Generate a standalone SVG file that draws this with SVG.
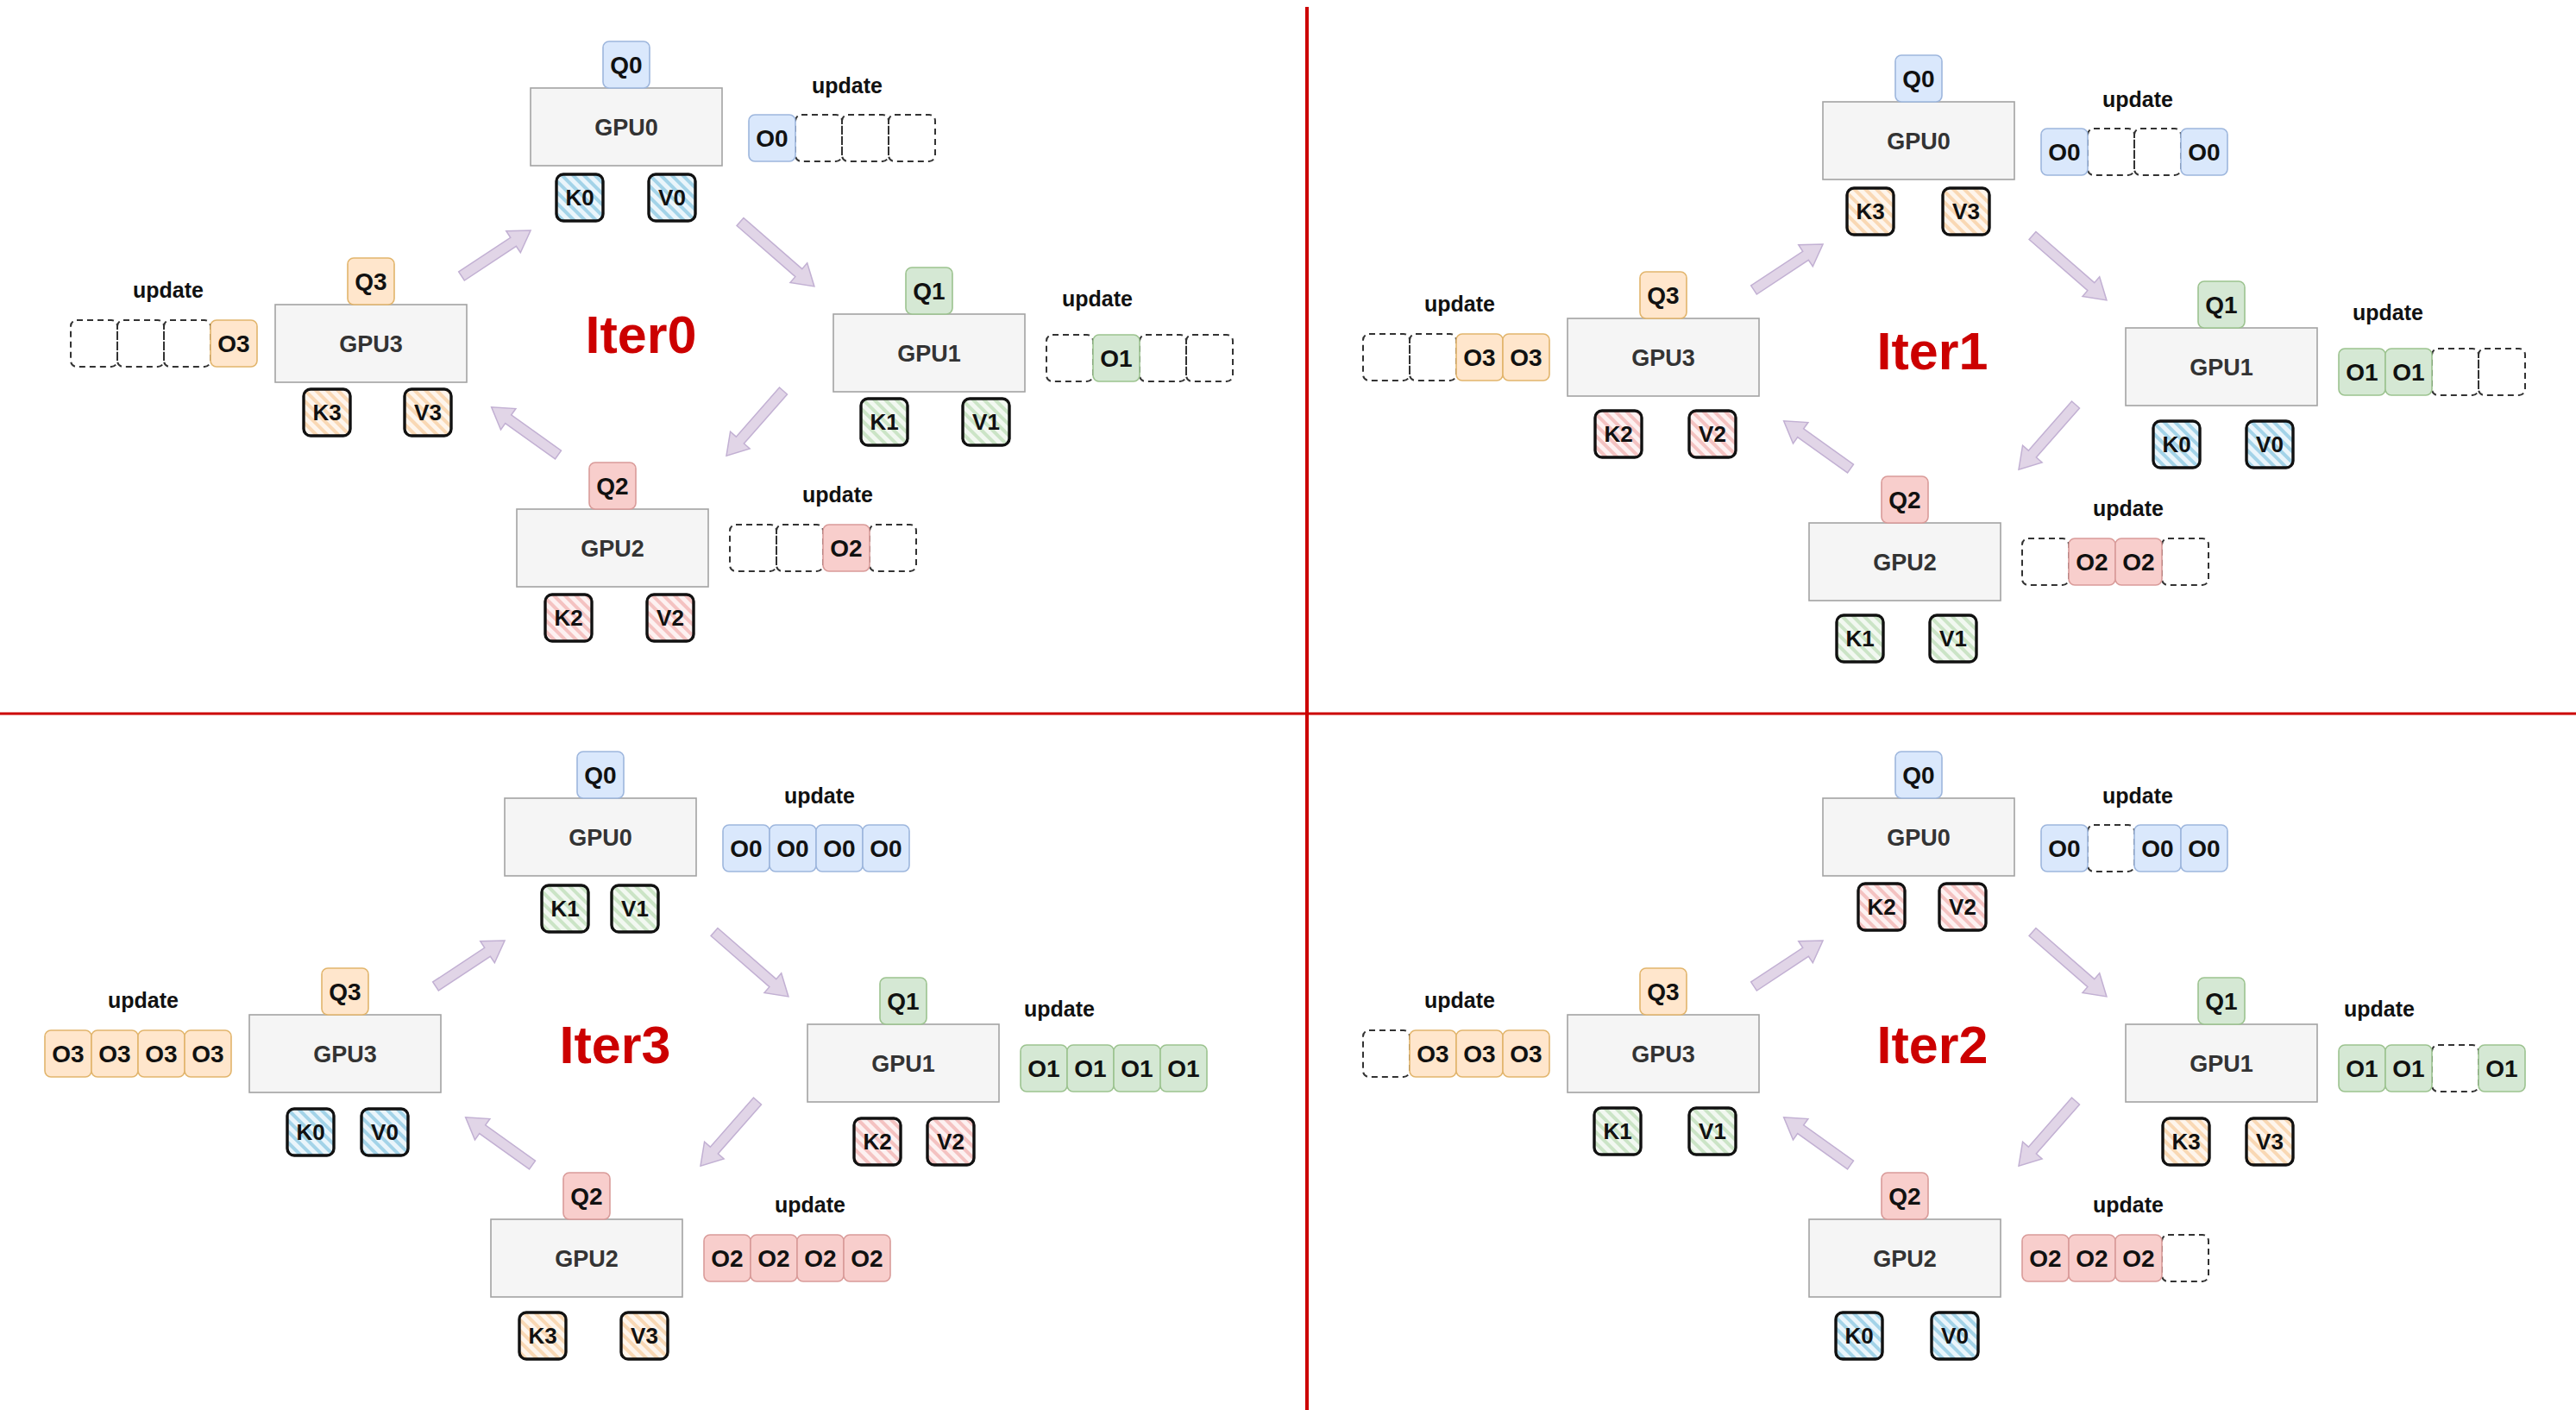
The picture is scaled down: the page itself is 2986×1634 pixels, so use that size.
<svg xmlns="http://www.w3.org/2000/svg" width="2986" height="1634" viewBox="0 0 2986 1634">
<style>
text{font-family:"Liberation Sans",Arial,Helvetica,sans-serif;font-weight:bold;text-anchor:middle}
.gpu{fill:#f5f5f5;stroke:#a3a3a3;stroke-width:1.6}
.gt{font-size:27px;fill:#333}
.l{font-size:28px;fill:#111}
.kt{font-size:26px;fill:#111}
.upd{font-size:25px;fill:#111}
.iter{font-size:61px;fill:#cc0000}
.cb{fill:#dae8fc;stroke:#9db6dd;stroke-width:1.6}
.cg{fill:#d5e8d4;stroke:#9cc38f;stroke-width:1.6}
.cr{fill:#f8cecc;stroke:#d99b99;stroke-width:1.6}
.co{fill:#ffe6cc;stroke:#e2b56c;stroke-width:1.6}
.d{fill:none;stroke:#333;stroke-width:2;stroke-dasharray:7 5}
.kv{stroke:#111;stroke-width:3.4}
.hb{fill:url(#hb)}.hg{fill:url(#hg)}.hr{fill:url(#hr)}.ho{fill:url(#ho)}
.arrow{fill:#e1d5e7;stroke:#c2b0d3;stroke-width:1.5}
.sep{stroke:#cc0000;fill:none}
</style>
<defs>
<pattern id="hb" patternUnits="userSpaceOnUse" width="9" height="9" patternTransform="rotate(-45)"><rect width="9" height="9" fill="#eaf5fb"/><rect width="4" height="9" fill="#a3d3e8"/></pattern>
<pattern id="hg" patternUnits="userSpaceOnUse" width="9" height="9" patternTransform="rotate(-45)"><rect width="9" height="9" fill="#f2f8f1"/><rect width="4" height="9" fill="#cbe4c6"/></pattern>
<pattern id="hr" patternUnits="userSpaceOnUse" width="9" height="9" patternTransform="rotate(-45)"><rect width="9" height="9" fill="#fdf1f1"/><rect width="4" height="9" fill="#f4c2c1"/></pattern>
<pattern id="ho" patternUnits="userSpaceOnUse" width="9" height="9" patternTransform="rotate(-45)"><rect width="9" height="9" fill="#fef5ec"/><rect width="4" height="9" fill="#f9d8b4"/></pattern>
</defs>
<rect width="2986" height="1634" fill="#ffffff"/>

<g id="separators">
<line class="sep" x1="0" y1="827" x2="2986" y2="827" stroke-width="3"/>
<line class="sep" x1="1515" y1="8" x2="1515" y2="1634" stroke-width="4"/>
</g>

<!-- ============ Iter0 (top-left) ============ -->
<g id="iter0" transform="translate(0,0)">
<text id="iter0-label" class="iter" x="743" y="409">Iter0</text>
<g id="iter0-gpu0">
<rect class="gpu" x="615" y="102" width="222" height="90"/><text class="gt" x="726" y="157">GPU0</text>
<rect class="cb" x="699" y="48" width="54" height="54" rx="7"/><text class="l" x="726" y="85">Q0</text>
<rect class="kv hb" x="645" y="202" width="54" height="54" rx="8"/><text class="kt" x="672" y="238">K0</text>
<rect class="kv hb" x="752" y="202" width="54" height="54" rx="8"/><text class="kt" x="779" y="238">V0</text>
<text class="upd" x="982" y="108">update</text>
<rect class="d" x="922" y="133" width="54" height="54" rx="7"/><rect class="d" x="976" y="133" width="54" height="54" rx="7"/><rect class="d" x="1030" y="133" width="54" height="54" rx="7"/>
<rect class="cb" x="868" y="133" width="54" height="54" rx="7"/><text class="l" x="895" y="170">O0</text>
</g>
<g id="iter0-gpu3">
<rect class="gpu" x="319" y="353" width="222" height="90"/><text class="gt" x="430" y="408">GPU3</text>
<rect class="co" x="403" y="299" width="54" height="54" rx="7"/><text class="l" x="430" y="336">Q3</text>
<rect class="kv ho" x="352" y="451" width="54" height="54" rx="8"/><text class="kt" x="379" y="487">K3</text>
<rect class="kv ho" x="469" y="451" width="54" height="54" rx="8"/><text class="kt" x="496" y="487">V3</text>
<text class="upd" x="195" y="345">update</text>
<rect class="d" x="82" y="371" width="54" height="54" rx="7"/><rect class="d" x="136" y="371" width="54" height="54" rx="7"/><rect class="d" x="190" y="371" width="54" height="54" rx="7"/>
<rect class="co" x="244" y="371" width="54" height="54" rx="7"/><text class="l" x="271" y="408">O3</text>
</g>
<g id="iter0-gpu1">
<rect class="gpu" x="966" y="364" width="222" height="90"/><text class="gt" x="1077" y="419">GPU1</text>
<rect class="cg" x="1050" y="310" width="54" height="54" rx="7"/><text class="l" x="1077" y="347">Q1</text>
<rect class="kv hg" x="998" y="462" width="54" height="54" rx="8"/><text class="kt" x="1025" y="498">K1</text>
<rect class="kv hg" x="1116" y="462" width="54" height="54" rx="8"/><text class="kt" x="1143" y="498">V1</text>
<text class="upd" x="1272" y="355">update</text>
<rect class="d" x="1213" y="388" width="54" height="54" rx="7"/><rect class="d" x="1321" y="388" width="54" height="54" rx="7"/><rect class="d" x="1375" y="388" width="54" height="54" rx="7"/>
<rect class="cg" x="1267" y="388" width="54" height="54" rx="7"/><text class="l" x="1294" y="425">O1</text>
</g>
<g id="iter0-gpu2">
<rect class="gpu" x="599" y="590" width="222" height="90"/><text class="gt" x="710" y="645">GPU2</text>
<rect class="cr" x="683" y="536" width="54" height="54" rx="7"/><text class="l" x="710" y="573">Q2</text>
<rect class="kv hr" x="632" y="689" width="54" height="54" rx="8"/><text class="kt" x="659" y="725">K2</text>
<rect class="kv hr" x="750" y="689" width="54" height="54" rx="8"/><text class="kt" x="777" y="725">V2</text>
<text class="upd" x="971" y="582">update</text>
<rect class="d" x="846" y="608" width="54" height="54" rx="7"/><rect class="d" x="900" y="608" width="54" height="54" rx="7"/><rect class="d" x="1008" y="608" width="54" height="54" rx="7"/>
<rect class="cr" x="954" y="608" width="54" height="54" rx="7"/><text class="l" x="981" y="645">O2</text>
</g>
</g>

<!-- ============ Iter1 (top-right) ============ -->
<g id="iter1" transform="translate(1498,16)">
<text id="iter1-label" class="iter" x="742" y="412">Iter1</text>
<g id="iter1-gpu0">
<rect class="gpu" x="615" y="102" width="222" height="90"/><text class="gt" x="726" y="157">GPU0</text>
<rect class="cb" x="699" y="48" width="54" height="54" rx="7"/><text class="l" x="726" y="85">Q0</text>
<rect class="kv ho" x="643" y="202" width="54" height="54" rx="8"/><text class="kt" x="670" y="238">K3</text>
<rect class="kv ho" x="754" y="202" width="54" height="54" rx="8"/><text class="kt" x="781" y="238">V3</text>
<text class="upd" x="980" y="108">update</text>
<rect class="d" x="922" y="133" width="54" height="54" rx="7"/><rect class="d" x="976" y="133" width="54" height="54" rx="7"/>
<rect class="cb" x="868" y="133" width="54" height="54" rx="7"/><text class="l" x="895" y="170">O0</text>
<rect class="cb" x="1030" y="133" width="54" height="54" rx="7"/><text class="l" x="1057" y="170">O0</text>
</g>
<g id="iter1-gpu3">
<rect class="gpu" x="319" y="353" width="222" height="90"/><text class="gt" x="430" y="408">GPU3</text>
<rect class="co" x="403" y="299" width="54" height="54" rx="7"/><text class="l" x="430" y="336">Q3</text>
<rect class="kv hr" x="351" y="460" width="54" height="54" rx="8"/><text class="kt" x="378" y="496">K2</text>
<rect class="kv hr" x="460" y="460" width="54" height="54" rx="8"/><text class="kt" x="487" y="496">V2</text>
<text class="upd" x="194" y="345">update</text>
<rect class="d" x="82" y="371" width="54" height="54" rx="7"/><rect class="d" x="136" y="371" width="54" height="54" rx="7"/>
<rect class="co" x="190" y="371" width="54" height="54" rx="7"/><text class="l" x="217" y="408">O3</text>
<rect class="co" x="244" y="371" width="54" height="54" rx="7"/><text class="l" x="271" y="408">O3</text>
</g>
<g id="iter1-gpu1">
<rect class="gpu" x="966" y="364" width="222" height="90"/><text class="gt" x="1077" y="419">GPU1</text>
<rect class="cg" x="1050" y="310" width="54" height="54" rx="7"/><text class="l" x="1077" y="347">Q1</text>
<rect class="kv hb" x="998" y="472" width="54" height="54" rx="8"/><text class="kt" x="1025" y="508">K0</text>
<rect class="kv hb" x="1106" y="472" width="54" height="54" rx="8"/><text class="kt" x="1133" y="508">V0</text>
<text class="upd" x="1270" y="355">update</text>
<rect class="d" x="1321" y="388" width="54" height="54" rx="7"/><rect class="d" x="1375" y="388" width="54" height="54" rx="7"/>
<rect class="cg" x="1213" y="388" width="54" height="54" rx="7"/><text class="l" x="1240" y="425">O1</text>
<rect class="cg" x="1267" y="388" width="54" height="54" rx="7"/><text class="l" x="1294" y="425">O1</text>
</g>
<g id="iter1-gpu2">
<rect class="gpu" x="599" y="590" width="222" height="90"/><text class="gt" x="710" y="645">GPU2</text>
<rect class="cr" x="683" y="536" width="54" height="54" rx="7"/><text class="l" x="710" y="573">Q2</text>
<rect class="kv hg" x="631" y="697" width="54" height="54" rx="8"/><text class="kt" x="658" y="733">K1</text>
<rect class="kv hg" x="739" y="697" width="54" height="54" rx="8"/><text class="kt" x="766" y="733">V1</text>
<text class="upd" x="969" y="582">update</text>
<rect class="d" x="846" y="608" width="54" height="54" rx="7"/><rect class="d" x="1008" y="608" width="54" height="54" rx="7"/>
<rect class="cr" x="900" y="608" width="54" height="54" rx="7"/><text class="l" x="927" y="645">O2</text>
<rect class="cr" x="954" y="608" width="54" height="54" rx="7"/><text class="l" x="981" y="645">O2</text>
</g>
</g>

<!-- ============ Iter3 (bottom-left) ============ -->
<g id="iter3" transform="translate(-30,823)">
<text id="iter3-label" class="iter" x="743" y="409">Iter3</text>
<g id="iter3-gpu0">
<rect class="gpu" x="615" y="102" width="222" height="90"/><text class="gt" x="726" y="157">GPU0</text>
<rect class="cb" x="699" y="48" width="54" height="54" rx="7"/><text class="l" x="726" y="85">Q0</text>
<rect class="kv hg" x="658" y="203" width="54" height="54" rx="8"/><text class="kt" x="685" y="239">K1</text>
<rect class="kv hg" x="739" y="203" width="54" height="54" rx="8"/><text class="kt" x="766" y="239">V1</text>
<text class="upd" x="980" y="108">update</text>
<rect class="cb" x="868" y="133" width="54" height="54" rx="7"/><text class="l" x="895" y="170">O0</text>
<rect class="cb" x="922" y="133" width="54" height="54" rx="7"/><text class="l" x="949" y="170">O0</text>
<rect class="cb" x="976" y="133" width="54" height="54" rx="7"/><text class="l" x="1003" y="170">O0</text>
<rect class="cb" x="1030" y="133" width="54" height="54" rx="7"/><text class="l" x="1057" y="170">O0</text>
</g>
<g id="iter3-gpu3">
<rect class="gpu" x="319" y="353" width="222" height="90"/><text class="gt" x="430" y="408">GPU3</text>
<rect class="co" x="403" y="299" width="54" height="54" rx="7"/><text class="l" x="430" y="336">Q3</text>
<rect class="kv hb" x="363" y="462" width="54" height="54" rx="8"/><text class="kt" x="390" y="498">K0</text>
<rect class="kv hb" x="449" y="462" width="54" height="54" rx="8"/><text class="kt" x="476" y="498">V0</text>
<text class="upd" x="196" y="345">update</text>
<rect class="co" x="82" y="371" width="54" height="54" rx="7"/><text class="l" x="109" y="408">O3</text>
<rect class="co" x="136" y="371" width="54" height="54" rx="7"/><text class="l" x="163" y="408">O3</text>
<rect class="co" x="190" y="371" width="54" height="54" rx="7"/><text class="l" x="217" y="408">O3</text>
<rect class="co" x="244" y="371" width="54" height="54" rx="7"/><text class="l" x="271" y="408">O3</text>
</g>
<g id="iter3-gpu1">
<rect class="gpu" x="966" y="364" width="222" height="90"/><text class="gt" x="1077" y="419">GPU1</text>
<rect class="cg" x="1050" y="310" width="54" height="54" rx="7"/><text class="l" x="1077" y="347">Q1</text>
<rect class="kv hr" x="1020" y="473" width="54" height="54" rx="8"/><text class="kt" x="1047" y="509">K2</text>
<rect class="kv hr" x="1105" y="473" width="54" height="54" rx="8"/><text class="kt" x="1132" y="509">V2</text>
<text class="upd" x="1258" y="355">update</text>
<rect class="cg" x="1213" y="388" width="54" height="54" rx="7"/><text class="l" x="1240" y="425">O1</text>
<rect class="cg" x="1267" y="388" width="54" height="54" rx="7"/><text class="l" x="1294" y="425">O1</text>
<rect class="cg" x="1321" y="388" width="54" height="54" rx="7"/><text class="l" x="1348" y="425">O1</text>
<rect class="cg" x="1375" y="388" width="54" height="54" rx="7"/><text class="l" x="1402" y="425">O1</text>
</g>
<g id="iter3-gpu2">
<rect class="gpu" x="599" y="590" width="222" height="90"/><text class="gt" x="710" y="645">GPU2</text>
<rect class="cr" x="683" y="536" width="54" height="54" rx="7"/><text class="l" x="710" y="573">Q2</text>
<rect class="kv ho" x="632" y="698" width="54" height="54" rx="8"/><text class="kt" x="659" y="734">K3</text>
<rect class="kv ho" x="750" y="698" width="54" height="54" rx="8"/><text class="kt" x="777" y="734">V3</text>
<text class="upd" x="969" y="582">update</text>
<rect class="cr" x="846" y="608" width="54" height="54" rx="7"/><text class="l" x="873" y="645">O2</text>
<rect class="cr" x="900" y="608" width="54" height="54" rx="7"/><text class="l" x="927" y="645">O2</text>
<rect class="cr" x="954" y="608" width="54" height="54" rx="7"/><text class="l" x="981" y="645">O2</text>
<rect class="cr" x="1008" y="608" width="54" height="54" rx="7"/><text class="l" x="1035" y="645">O2</text>
</g>
</g>

<!-- ============ Iter2 (bottom-right) ============ -->
<g id="iter2" transform="translate(1498,823)">
<text id="iter2-label" class="iter" x="742" y="409">Iter2</text>
<g id="iter2-gpu0">
<rect class="gpu" x="615" y="102" width="222" height="90"/><text class="gt" x="726" y="157">GPU0</text>
<rect class="cb" x="699" y="48" width="54" height="54" rx="7"/><text class="l" x="726" y="85">Q0</text>
<rect class="kv hr" x="656" y="201" width="54" height="54" rx="8"/><text class="kt" x="683" y="237">K2</text>
<rect class="kv hr" x="750" y="201" width="54" height="54" rx="8"/><text class="kt" x="777" y="237">V2</text>
<text class="upd" x="980" y="108">update</text>
<rect class="d" x="922" y="133" width="54" height="54" rx="7"/>
<rect class="cb" x="868" y="133" width="54" height="54" rx="7"/><text class="l" x="895" y="170">O0</text>
<rect class="cb" x="976" y="133" width="54" height="54" rx="7"/><text class="l" x="1003" y="170">O0</text>
<rect class="cb" x="1030" y="133" width="54" height="54" rx="7"/><text class="l" x="1057" y="170">O0</text>
</g>
<g id="iter2-gpu3">
<rect class="gpu" x="319" y="353" width="222" height="90"/><text class="gt" x="430" y="408">GPU3</text>
<rect class="co" x="403" y="299" width="54" height="54" rx="7"/><text class="l" x="430" y="336">Q3</text>
<rect class="kv hg" x="350" y="461" width="54" height="54" rx="8"/><text class="kt" x="377" y="497">K1</text>
<rect class="kv hg" x="460" y="461" width="54" height="54" rx="8"/><text class="kt" x="487" y="497">V1</text>
<text class="upd" x="194" y="345">update</text>
<rect class="d" x="82" y="371" width="54" height="54" rx="7"/>
<rect class="co" x="136" y="371" width="54" height="54" rx="7"/><text class="l" x="163" y="408">O3</text>
<rect class="co" x="190" y="371" width="54" height="54" rx="7"/><text class="l" x="217" y="408">O3</text>
<rect class="co" x="244" y="371" width="54" height="54" rx="7"/><text class="l" x="271" y="408">O3</text>
</g>
<g id="iter2-gpu1">
<rect class="gpu" x="966" y="364" width="222" height="90"/><text class="gt" x="1077" y="419">GPU1</text>
<rect class="cg" x="1050" y="310" width="54" height="54" rx="7"/><text class="l" x="1077" y="347">Q1</text>
<rect class="kv ho" x="1009" y="473" width="54" height="54" rx="8"/><text class="kt" x="1036" y="509">K3</text>
<rect class="kv ho" x="1106" y="473" width="54" height="54" rx="8"/><text class="kt" x="1133" y="509">V3</text>
<text class="upd" x="1260" y="355">update</text>
<rect class="d" x="1321" y="388" width="54" height="54" rx="7"/>
<rect class="cg" x="1213" y="388" width="54" height="54" rx="7"/><text class="l" x="1240" y="425">O1</text>
<rect class="cg" x="1267" y="388" width="54" height="54" rx="7"/><text class="l" x="1294" y="425">O1</text>
<rect class="cg" x="1375" y="388" width="54" height="54" rx="7"/><text class="l" x="1402" y="425">O1</text>
</g>
<g id="iter2-gpu2">
<rect class="gpu" x="599" y="590" width="222" height="90"/><text class="gt" x="710" y="645">GPU2</text>
<rect class="cr" x="683" y="536" width="54" height="54" rx="7"/><text class="l" x="710" y="573">Q2</text>
<rect class="kv hb" x="630" y="698" width="54" height="54" rx="8"/><text class="kt" x="657" y="734">K0</text>
<rect class="kv hb" x="741" y="698" width="54" height="54" rx="8"/><text class="kt" x="768" y="734">V0</text>
<text class="upd" x="969" y="582">update</text>
<rect class="d" x="1008" y="608" width="54" height="54" rx="7"/>
<rect class="cr" x="846" y="608" width="54" height="54" rx="7"/><text class="l" x="873" y="645">O2</text>
<rect class="cr" x="900" y="608" width="54" height="54" rx="7"/><text class="l" x="927" y="645">O2</text>
<rect class="cr" x="954" y="608" width="54" height="54" rx="7"/><text class="l" x="981" y="645">O2</text>
</g>
</g>

<!-- ============ Connectors ============ -->
<g id="connectors">
<g id="conn-iter0" transform="translate(0,0)">
<polygon class="arrow" transform="translate(535,320) rotate(-33.5)" points="0,-6 72,-6 72,-15 96,0 72,15 72,6 0,6"/>
<polygon class="arrow" transform="translate(858,257) rotate(41.1)" points="0,-6 90,-6 90,-15 114,0 90,15 90,6 0,6"/>
<polygon class="arrow" transform="translate(908,453) rotate(131.3)" points="0,-6 76,-6 76,-15 100,0 76,15 76,6 0,6"/>
<polygon class="arrow" transform="translate(647,527) rotate(-144.5)" points="0,-6 71,-6 71,-15 95,0 71,15 71,6 0,6"/>
</g>
<g id="conn-iter1" transform="translate(1498,16)">
<polygon class="arrow" transform="translate(535,320) rotate(-33.5)" points="0,-6 72,-6 72,-15 96,0 72,15 72,6 0,6"/>
<polygon class="arrow" transform="translate(858,257) rotate(41.1)" points="0,-6 90,-6 90,-15 114,0 90,15 90,6 0,6"/>
<polygon class="arrow" transform="translate(908,453) rotate(131.3)" points="0,-6 76,-6 76,-15 100,0 76,15 76,6 0,6"/>
<polygon class="arrow" transform="translate(647,527) rotate(-144.5)" points="0,-6 71,-6 71,-15 95,0 71,15 71,6 0,6"/>
</g>
<g id="conn-iter3" transform="translate(-30,823)">
<polygon class="arrow" transform="translate(535,320) rotate(-33.5)" points="0,-6 72,-6 72,-15 96,0 72,15 72,6 0,6"/>
<polygon class="arrow" transform="translate(858,257) rotate(41.1)" points="0,-6 90,-6 90,-15 114,0 90,15 90,6 0,6"/>
<polygon class="arrow" transform="translate(908,453) rotate(131.3)" points="0,-6 76,-6 76,-15 100,0 76,15 76,6 0,6"/>
<polygon class="arrow" transform="translate(647,527) rotate(-144.5)" points="0,-6 71,-6 71,-15 95,0 71,15 71,6 0,6"/>
</g>
<g id="conn-iter2" transform="translate(1498,823)">
<polygon class="arrow" transform="translate(535,320) rotate(-33.5)" points="0,-6 72,-6 72,-15 96,0 72,15 72,6 0,6"/>
<polygon class="arrow" transform="translate(858,257) rotate(41.1)" points="0,-6 90,-6 90,-15 114,0 90,15 90,6 0,6"/>
<polygon class="arrow" transform="translate(908,453) rotate(131.3)" points="0,-6 76,-6 76,-15 100,0 76,15 76,6 0,6"/>
<polygon class="arrow" transform="translate(647,527) rotate(-144.5)" points="0,-6 71,-6 71,-15 95,0 71,15 71,6 0,6"/>
</g>
</g>
</svg>
